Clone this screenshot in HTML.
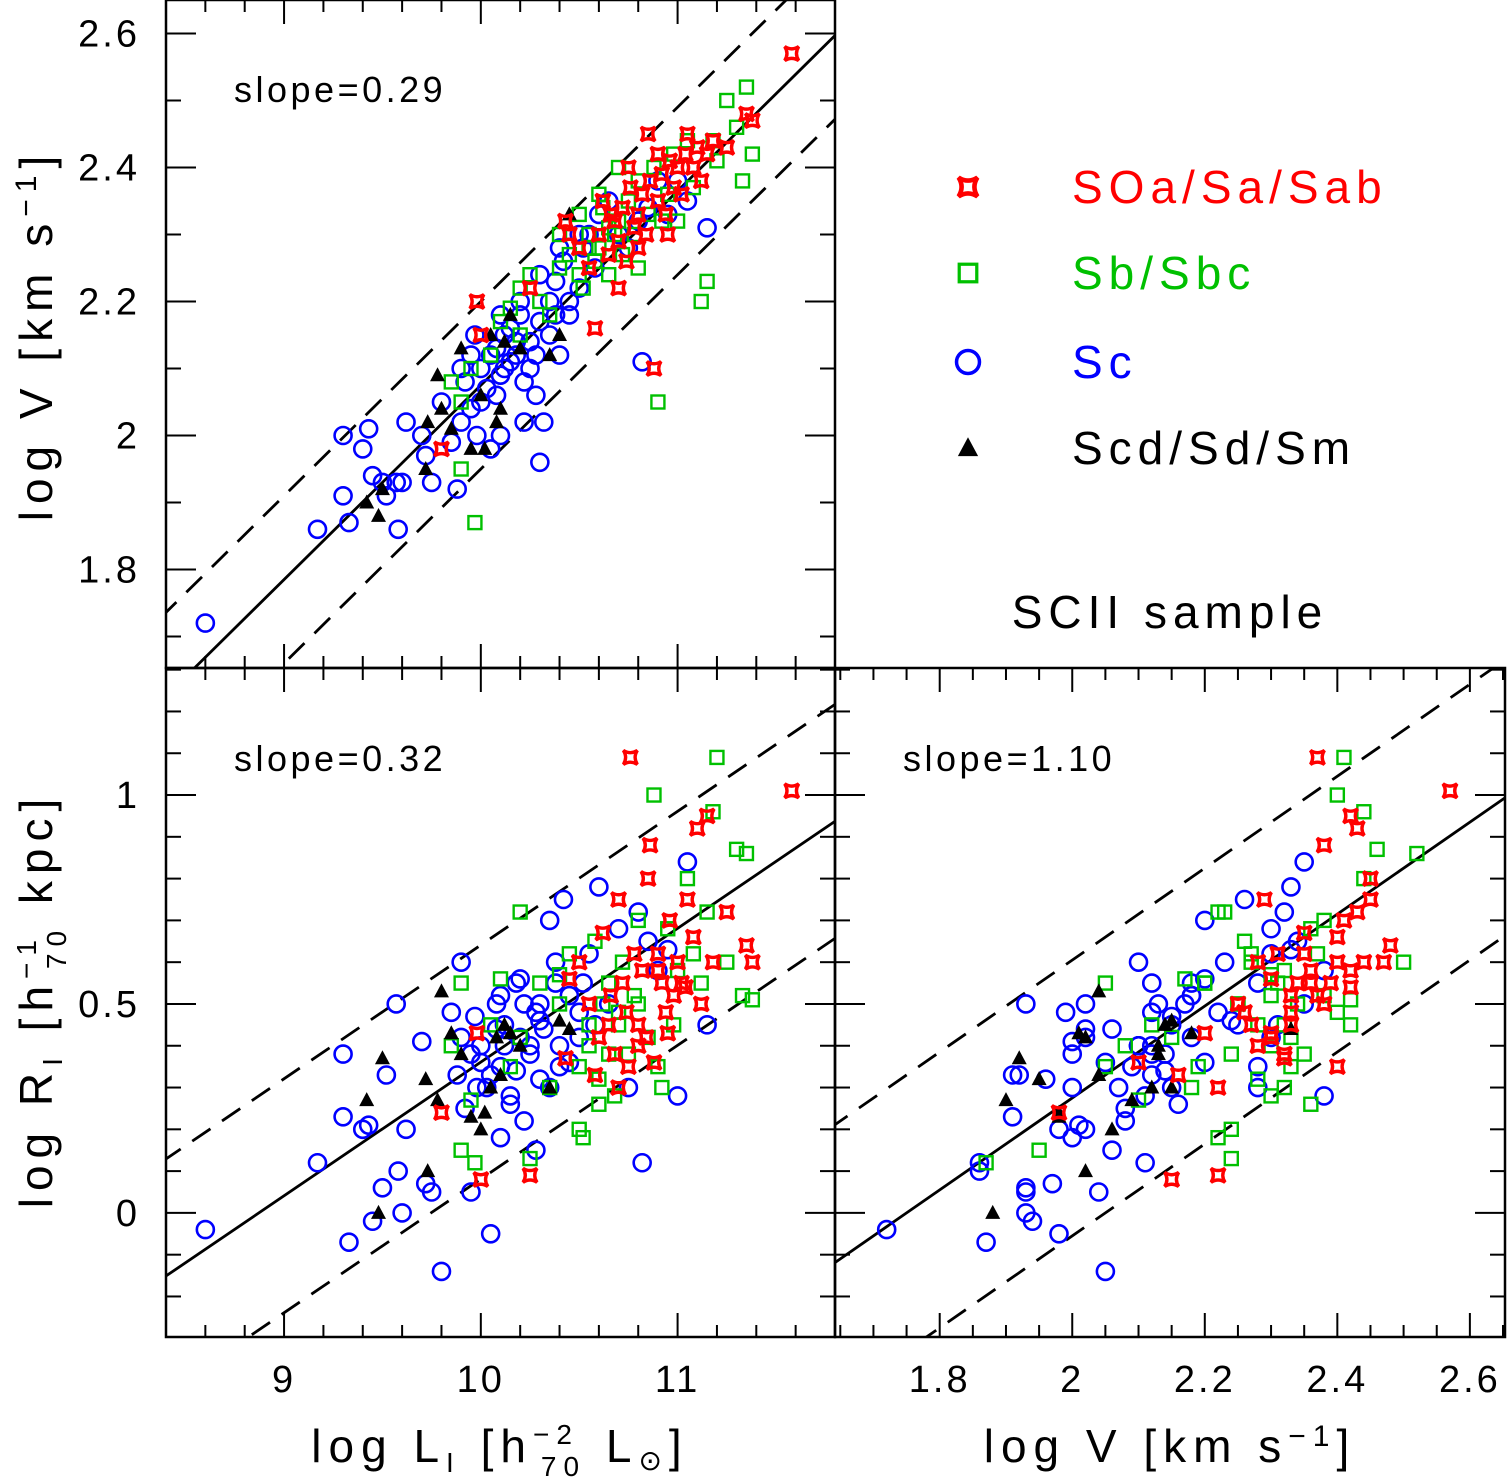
<!DOCTYPE html>
<html><head><meta charset="utf-8"><style>
html,body{margin:0;padding:0;background:#fff;overflow:hidden;}
svg{display:block;font-family:"Liberation Sans",sans-serif;}
</style></head><body>
<svg id="fig" width="1507" height="1484" viewBox="0 0 1507 1484" xmlns="http://www.w3.org/2000/svg"></svg>
<script>
// ---- data: [logL_I, logV, logR_I] per galaxy ----
const soaData = [[9.8,1.98,0.24],[9.98,2.2,0.43],[10.0,2.15,0.08],[10.25,2.22,0.09],[10.43,2.32,0.37],[10.45,2.3,0.56],[10.5,2.28,0.6],[10.55,2.25,0.5],[10.58,2.16,0.33],[10.6,2.3,0.42],[10.62,2.35,0.67],[10.65,2.27,0.45],[10.68,2.32,0.38],[10.7,2.29,0.75],[10.72,2.34,0.55],[10.74,2.26,0.48],[10.76,2.37,1.09],[10.78,2.31,0.62],[10.8,2.33,0.45],[10.82,2.36,0.58],[10.84,2.3,0.42],[10.86,2.38,0.88],[10.88,2.1,0.36],[10.9,2.35,0.62],[10.92,2.39,0.55],[10.94,2.33,0.48],[10.96,2.41,0.7],[10.98,2.37,0.52],[11.0,2.4,0.6],[11.02,2.36,0.55],[11.04,2.42,0.54],[11.05,2.45,0.75],[11.08,2.4,0.66],[11.1,2.43,0.92],[11.12,2.38,0.5],[11.15,2.42,0.95],[11.18,2.44,0.6],[11.25,2.43,0.72],[11.35,2.48,0.64],[11.38,2.47,0.6],[11.58,2.57,1.01],[10.85,2.45,0.8],[10.75,2.4,0.35],[10.95,2.3,0.43],[10.7,2.22,0.3],[10.66,2.33,0.52],[10.8,2.28,0.4],[10.9,2.42,0.58]];
const sbData = [[9.97,1.87,0.12],[9.9,1.95,0.15],[9.85,2.08,0.4],[9.9,2.05,0.55],[10.05,2.12,0.45],[10.1,2.17,0.56],[10.2,2.15,0.42],[10.25,2.24,0.13],[10.3,2.2,0.55],[10.35,2.18,0.3],[10.4,2.25,0.5],[10.45,2.27,0.62],[10.5,2.33,0.35],[10.52,2.22,0.18],[10.55,2.3,0.4],[10.58,2.26,0.65],[10.6,2.28,0.32],[10.62,2.34,0.5],[10.65,2.24,0.38],[10.68,2.3,0.28],[10.7,2.32,0.45],[10.72,2.27,0.6],[10.75,2.35,0.38],[10.78,2.3,0.52],[10.8,2.38,0.7],[10.85,2.33,0.42],[10.88,2.4,1.0],[10.9,2.05,0.35],[10.92,2.32,0.3],[10.95,2.36,0.68],[10.98,2.42,0.45],[11.0,2.32,0.58],[11.05,2.44,0.8],[11.08,2.37,0.62],[11.12,2.2,0.55],[11.15,2.23,0.72],[11.18,2.44,0.96],[11.2,2.41,1.09],[11.25,2.5,0.6],[11.3,2.46,0.87],[11.33,2.38,0.52],[11.35,2.52,0.86],[11.38,2.42,0.51],[10.2,2.22,0.72],[10.6,2.36,0.26],[10.8,2.25,0.5],[10.5,2.24,0.2],[9.95,2.1,0.27],[10.4,2.3,0.57],[10.7,2.4,0.48],[10.55,2.28,0.45],[10.65,2.31,0.55],[10.15,2.19,0.35]];
const scData = [[8.6,1.72,-0.04],[9.17,1.86,0.12],[9.3,2.0,0.38],[9.3,1.91,0.23],[9.33,1.87,-0.07],[9.4,1.98,0.2],[9.43,2.01,0.21],[9.45,1.94,-0.02],[9.5,1.93,0.06],[9.52,1.91,0.33],[9.57,1.93,0.5],[9.58,1.86,0.1],[9.6,1.93,0.0],[9.62,2.02,0.2],[9.7,2.0,0.41],[9.72,1.97,0.07],[9.75,1.93,0.05],[9.8,2.05,-0.14],[9.85,1.99,0.48],[9.88,1.92,0.33],[9.9,2.1,0.6],[9.92,2.08,0.25],[9.95,2.04,0.05],[10.0,2.1,0.4],[10.03,2.07,0.3],[10.05,1.98,-0.05],[10.08,2.13,0.5],[10.1,2.09,0.35],[10.12,2.15,0.45],[10.15,2.11,0.28],[10.18,2.12,0.55],[10.2,2.18,0.42],[10.22,2.08,0.22],[10.25,2.14,0.38],[10.28,2.06,0.15],[10.3,2.17,0.5],[10.3,1.96,0.32],[10.32,2.02,0.44],[10.35,2.2,0.7],[10.38,2.23,0.6],[10.4,2.12,0.4],[10.42,2.26,0.75],[10.45,2.18,0.52],[10.5,2.22,0.48],[10.52,2.28,0.55],[10.55,2.3,0.62],[10.58,2.25,0.45],[10.6,2.33,0.78],[10.65,2.35,0.5],[10.7,2.3,0.68],[10.75,2.28,0.3],[10.8,2.32,0.72],[10.82,2.11,0.12],[10.85,2.34,0.65],[10.9,2.38,0.58],[10.95,2.33,0.63],[11.0,2.38,0.28],[11.05,2.35,0.84],[11.15,2.31,0.45],[10.0,2.05,0.36],[10.1,2.0,0.18],[9.97,2.15,0.47],[10.2,2.2,0.56],[10.05,2.12,0.33],[10.15,2.16,0.26],[10.25,2.1,0.4],[10.35,2.15,0.3],[10.45,2.2,0.36],[9.95,2.12,0.38],[10.1,2.18,0.52],[10.3,2.24,0.46],[10.4,2.28,0.35],[9.98,2.0,0.3],[10.22,2.02,0.5],[10.5,2.3,0.42],[10.08,2.06,0.44],[10.18,2.14,0.34],[10.28,2.12,0.48],[10.38,2.18,0.55],[10.12,2.1,0.4],[9.9,2.02,0.42]];
const scdData = [[9.42,1.9,0.27],[9.48,1.88,0.0],[9.5,1.92,0.37],[9.72,1.95,0.32],[9.73,2.02,0.1],[9.8,2.04,0.53],[9.85,2.01,0.43],[9.9,2.13,0.38],[9.95,1.98,0.23],[10.0,2.06,0.2],[10.02,1.98,0.24],[10.08,2.02,0.42],[10.1,2.04,0.33],[10.12,2.14,0.45],[10.15,2.18,0.43],[10.2,2.13,0.4],[10.35,2.12,0.3],[10.4,2.15,0.46],[10.45,2.33,0.44],[9.78,2.09,0.27],[10.05,2.15,0.3]];
const fitLV = [0.29, 2.075, 10, 0.125];   // slope, intercept at x0, x0, dashed offset
const fitLR = [0.32, 0.361, 10, 0.28];
const fitVR = [1.10, 0.495, 2.2, 0.33];
const xTicksL = ["9","10","11"];
const xTicksV = ["1.8","2","2.2","2.4","2.6"];
const yTicksV = ["1.8","2","2.2","2.4","2.6"];
const yTicksR = ["0","0.5","1"];

const NS="http://www.w3.org/2000/svg";
const svg=document.getElementById('fig');
function el(tag,attrs,parent){const e=document.createElementNS(NS,tag);for(const k in attrs)e.setAttribute(k,attrs[k]);(parent||svg).appendChild(e);return e;}
function lin(d0,d1,p0,p1){return v=>p0+(v-d0)*(p1-p0)/(d1-d0);}

const P={
 tl:{x0:166,x1:835,y0:0,y1:668,xs:lin(8.4,11.8,166,835),ys:lin(2.65,1.653,0,668)},
 bl:{x0:166,x1:835,y0:668,y1:1337,xs:lin(8.4,11.8,166,835),ys:lin(1.304,-0.297,668,1337)},
 br:{x0:835,x1:1505,y0:668,y1:1337,xs:lin(1.642,2.653,835,1505),ys:lin(1.304,-0.297,668,1337)}
};

function ticks(p,axis,start,end,step,majorStep,len){
  const g=el('g',{stroke:'#000','stroke-width':2});
  
  
  const n=Math.round((end-start)/step);
  for(let i=0;i<=n;i++){
    const v=start+i*step;const q=v/majorStep;const major=Math.abs(q-Math.round(q))<1e-6;const L=major?len:len*0.5;
    if(axis==='x'){const x=p.xs(v);if(x<p.x0||x>p.x1)continue;
      el('line',{x1:x,y1:p.y1,x2:x,y2:p.y1-L},g);el('line',{x1:x,y1:p.y0,x2:x,y2:p.y0+L},g);}
    else{const y=p.ys(v);if(y<p.y0||y>p.y1)continue;
      el('line',{x1:p.x0,y1:y,x2:p.x0+L,y2:y},g);el('line',{x1:p.x1,y1:y,x2:p.x1-L,y2:y},g);}
  }
}
function frame(p,name){
  const r=el('rect',{x:p.x0,y:p.y0,width:p.x1-p.x0,height:p.y1-p.y0,fill:'none',stroke:'#000','stroke-width':2.5});
  
  
}
let clipId=0;
function fitLines(p,fit,name){
  const id='c'+(clipId++);
  const cp=el('clipPath',{id:id});el('rect',{x:p.x0,y:p.y0,width:p.x1-p.x0,height:p.y1-p.y0},cp);
  const g=el('g',{'clip-path':'url(#'+id+')'});
  
  
  const [s,b,x0,off]=fit;
  const xa=-1,xb=14;
  [[0,'none'],[off,'22,14'],[-off,'22,14']].forEach(([o,da])=>{
    const y=x=>b+s*(x-x0)+o;
    el('line',{x1:p.xs(xa),y1:p.ys(y(xa)),x2:p.xs(xb),y2:p.ys(y(xb)),stroke:'#000','stroke-width':2.8,'stroke-dasharray':da},g);
  });
}
function marker(g,type,x,y){
  if(type==='sc'){const m=el('circle',{cx:x,cy:y,r:8.5,fill:'none',stroke:'#0000ff','stroke-width':2.6},g);}
  else if(type==='sb'){const m=el('rect',{x:x-6.5,y:y-6.5,width:13,height:13,fill:'none',stroke:'#00c000','stroke-width':2.4},g);}
  else if(type==='scd'){const m=el('path',{d:`M${x},${y-8}L${x+7.5},${y+6}L${x-7.5},${y+6}Z`,fill:'#000'},g);}
  else {const m=el('path',{d:`M${x-7},${y-7}Q${x},${y-2.5} ${x+7},${y-7}Q${x+2.5},${y} ${x+7},${y+7}Q${x},${y+2.5} ${x-7},${y+7}Q${x-2.5},${y} ${x-7},${y-7}Z`,fill:'none',stroke:'#ff0000','stroke-width':3.4},g);}
}
function scatter(p,ix,iy,name){
  const g=el('g',{});
  
  
  [['sc',scData],['sb',sbData],['scd',scdData],['soa',soaData]].forEach(([t,arr])=>{
    arr.forEach(d=>marker(g,t,p.xs(d[ix]),p.ys(d[iy])));
  });
}
function text(x,y,s,size,name,anchor,fill,ls){
  const t=el('text',{x:x,y:y,'font-size':size,'text-anchor':anchor||'start',fill:fill||'#000','letter-spacing':ls||0});
  t.textContent=s;
  
  
  return t;
}

// panels
fitLines(P.tl,fitLV,'fit-lines-l-v');scatter(P.tl,0,1,'scatter-l-v');
fitLines(P.bl,fitLR,'fit-lines-l-r');scatter(P.bl,0,2,'scatter-l-r');
fitLines(P.br,fitVR,'fit-lines-v-r');scatter(P.br,1,2,'scatter-v-r');
ticks(P.tl,'x',8.4,11.8,0.2,1,24);ticks(P.tl,'y',1.7,2.6,0.1,0.2,30);
ticks(P.bl,'x',8.4,11.8,0.2,1,24);ticks(P.bl,'y',-0.3,1.3,0.1,0.5,30);
ticks(P.br,'x',1.65,2.65,0.05,0.2,24);ticks(P.br,'y',-0.3,1.3,0.1,0.5,30);
frame(P.tl,'panel-l-v-frame');frame(P.bl,'panel-l-r-frame');frame(P.br,'panel-v-r-frame');

// tick labels
xTicksL.forEach(s=>text(P.bl.xs(+s),1392,s,38,'x-tick-label-l','middle','#000',3));
xTicksV.forEach(s=>text(P.br.xs(+s),1392,s,38,'x-tick-label-v','middle','#000',3));
yTicksV.forEach(s=>text(140,P.tl.ys(+s)+13,s,38,'y-tick-label-v','end','#000',3));
yTicksR.forEach(s=>text(140,P.bl.ys(+s)+13,s,38,'y-tick-label-r','end','#000',3));

text(234,102,'slope=0.29',36,'slope-annotation-l-v','start','#000',3.5);
text(234,771,'slope=0.32',36,'slope-annotation-l-r','start','#000',3.5);
text(903,771,'slope=1.10',36,'slope-annotation-v-r','start','#000',3.5);

// axis titles
const yt1=text(0,0,'',46,'y-axis-title-v','middle','#000',7);yt1.setAttribute('transform','translate(52,335) rotate(-90)');
yt1.innerHTML='log V [km s<tspan dy="-16" font-size="30">−1</tspan><tspan dy="16">]</tspan>';
const yt2=text(0,0,'',46,'y-axis-title-r','middle','#000',7);yt2.setAttribute('transform','translate(52,1000) rotate(-90)');
yt2.innerHTML='log R<tspan dy="10" font-size="28">I</tspan><tspan dy="-10"> [h</tspan><tspan dy="-16" font-size="28">−1</tspan><tspan dx="-36" dy="30" font-size="28">70</tspan><tspan dy="-14"> kpc]</tspan>';
const xt1=text(500,1462,'',46,'x-axis-title-l','middle','#000',7);
xt1.innerHTML='log L<tspan dy="10" font-size="28">I</tspan><tspan dy="-10"> [h</tspan><tspan dy="-18" font-size="28">−2</tspan><tspan dx="-38" dy="32" font-size="28">70</tspan><tspan dy="-14"> L</tspan><tspan dy="8" font-size="28">⊙</tspan><tspan dy="-8">]</tspan>';
const xt2=text(1170,1462,'',46,'x-axis-title-v','middle','#000',7);
xt2.innerHTML='log V [km s<tspan dy="-16" font-size="30">−1</tspan><tspan dy="16">]</tspan>';

// legend
const lg=el('g',{});


const legTypes=['soa','sb','sc','scd'];
const legLabels=['SOa/Sa/Sab','Sb/Sbc','Sc','Scd/Sd/Sm'];
const legColors=['#ff0000','#00c000','#0000ff','#000'];
const legY=[187,273,362,448];
legTypes.forEach((t,i)=>{
  const mg=el('g',{transform:`translate(968,${legY[i]}) scale(1.35) translate(-968,${-legY[i]})`},lg);
  marker(mg,t,968,legY[i]);
  const tx=text(1072,legY[i]+16,legLabels[i],46,'legend-entry-'+t,'start',legColors[i],6);
  lg.appendChild(tx);
});
text(1170,628,'SCII sample',46,'sample-label','middle','#000',6);
</script>
</body></html>
